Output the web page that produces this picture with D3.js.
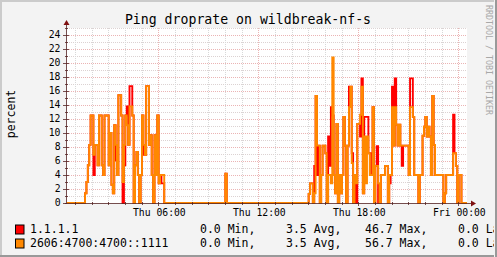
<!DOCTYPE html>
<html><head><meta charset="utf-8">
<script src="https://cdn.jsdelivr.net/npm/d3@7"></script>
<style>html,body{margin:0;padding:0;background:#f3f3f3;} svg{display:block;font-family:"DejaVu Sans Mono",monospace;}</style>
</head><body><svg id="c" width="497" height="257"></svg>
<script>
const title = "Ping droprate on wildbreak-nf-s";
const yLabel = "percent";
const yTickLabels = [0, 2, 4, 6, 8, 10, 12, 14, 16, 18, 20, 22, 24];
const seriesNames = ["1.1.1.1", "2606:4700:4700::1111"];
const seriesColors = ["#ff0000", "#ff8800"];
const legendMin = ["0.0", "0.0"];
const legendAvg = ["3.5", "3.5"];
const legendMax = ["46.7", "56.7"];
const legendLast = ["0.0", "0.0"];
const startTime = new Date(2024, 0, 4, 0, 27, 36);
const stepMinutes = 5;

// 288 five-minute samples (percent)
const redValues = [
0,0,0,0,0,0,0,0,0,0,0,0,
0,1.4,3.0,5.4,8.3,12.5,12.5,4.0,8.3,8.3,5.4,12.5,
12.5,5.4,4.0,12.5,12.5,12.5,5.4,10.0,2.6,1.4,11.1,6.1,
4.0,15.4,15.4,12.5,0,5.4,12.5,13.8,8.3,16.7,16.7,12.5,
0,5.4,7.3,4.0,0,4.0,12.5,6.9,6.9,16.7,16.7,8.3,
9.7,4.0,0,9.7,4.0,12.5,2.8,4.0,2.8,2.8,0,0,
0,0,0,0,0,0,0,0,0,0,0,0,
0,0,0,0,0,0,0,0,0,0,0,0,
0,0,0,0,0,0,0,0,0,0,0,0,
0,0,0,0,0,0,4.2,0,0,0,0,0,
0,0,0,0,0,0,0,0,0,0,0,0,
0,0,0,0,0,0,0,0,0,0,0,0,
0,0,0,0,0,0,0,0,0,0,0,0,
0,0,0,0,0,0,0,0,0,0,0,0,
0,0,0,0,0,0,1.3,2.8,2.8,0,5.3,15.3,
4.0,8.2,0,4.0,8.2,8.2,7.1,0,9.5,5.3,13.7,12.5,
4.0,1.4,11.3,0,4.0,1.4,4.0,12.3,8.2,0,8.2,16.6,
16.6,7.1,0,4.0,0,11.3,11.3,9.5,17.8,1.4,12.3,12.3,
12.3,7.1,7.1,4.0,13.7,0,5.3,8.1,0,0,4.0,4.0,
4.0,5.3,5.3,0,2.8,4.0,16.6,8.2,17.8,11.2,8.2,11.2,
8.2,5.3,8.2,8.2,8.2,8.2,4.0,17.8,17.8,12.3,4.0,4.0,
4.0,0,4.0,4.0,9.6,10.9,12.3,9.5,10.9,9.5,4.0,15.3,
8.3,4.0,4.0,4.0,4.0,4.0,4.0,0,1.4,4.0,4.0,4.0,
4.0,4.0,12.6,7.1,5.3,0,4.0,4.0,0,0,0,0
];
const orangeValues = [
0,0,0,0,0,0,0,0,0,0,0,0,
0,1.4,3.0,5.4,8.3,12.5,12.5,6.9,8.3,8.3,5.4,12.5,
12.5,5.4,4.0,12.5,12.5,12.5,5.4,10.0,2.6,1.4,11.1,8.3,
4.0,15.4,15.4,12.5,3.0,8.3,12.5,11.1,8.3,13.8,13.8,12.5,
0,5.4,7.3,4.0,0,4.0,12.5,8.3,6.9,16.7,16.7,8.3,
9.7,4.0,0,9.7,4.0,12.5,2.8,4.0,4.0,4.0,0,0,
0,0,0,0,0,0,0,0,0,0,0,0,
0,0,0,0,0,0,0,0,0,0,0,0,
0,0,0,0,0,0,0,0,0,0,0,0,
0,0,0,0,0,0,4.2,0,0,0,0,0,
0,0,0,0,0,0,0,0,0,0,0,0,
0,0,0,0,0,0,0,0,0,0,0,0,
0,0,0,0,0,0,0,0,0,0,0,0,
0,0,0,0,0,0,0,0,0,0,0,0,
0,0,0,0,0,0,1.3,2.8,2.8,0,1.4,15.3,
8.2,8.2,0,4.0,8.2,8.2,7.1,0,4.0,4.0,2.8,20.8,
4.0,1.4,11.3,0,4.0,1.4,4.0,12.3,8.2,0,8.2,13.7,
16.6,5.7,0,4.0,2.8,11.3,11.3,12.6,16.6,1.4,9.5,2.8,
9.5,7.1,4.0,4.0,13.7,0,5.3,5.3,2.8,0,4.0,4.0,
4.0,5.3,5.3,0,4.0,4.0,13.7,8.2,13.7,11.2,8.2,11.2,
8.2,8.2,8.2,8.2,8.2,8.2,4.0,13.7,13.7,12.3,4.0,4.0,
4.0,0,4.0,4.0,9.6,10.9,12.3,9.5,10.9,9.5,4.0,15.3,
8.3,4.0,4.0,4.0,4.0,4.0,4.0,0,1.4,4.0,4.0,4.0,
4.0,4.0,7.1,7.1,5.3,0,4.0,4.0,0,0,0,0
];
const seriesValues = [redValues, orangeValues];

const W = 497, H = 257;
const L = 67, R = 467, T = 28, B = 203;
const svg = d3.select("#c");
svg.append("rect").attr("width", W).attr("height", H).attr("fill", "#f3f3f3");

const endTime = new Date(+startTime + 24 * 3600e3);
const x = d3.scaleTime().domain([startTime, endTime]).range([L, R]);
const y = d3.scaleLinear().domain([0, 25]).range([B, T]);

svg.append("rect").attr("x", L).attr("y", T).attr("width", R - L).attr("height", B - T).attr("fill", "#ffffff");

const g = svg.append("g");
// horizontal grid
const yAll = d3.range(1, 26);
g.selectAll("line.hg").data(yAll).join("line")
  .attr("x1", L).attr("x2", R)
  .attr("y1", d => Math.round(y(d)) + 0.5).attr("y2", d => Math.round(y(d)) + 0.5)
  .attr("stroke", d => d % 2 === 0 ? "#ebb4b4" : "#dcd2d2")
  .attr("stroke-dasharray", "1,1");
// vertical grid
const hours = d3.timeHour.range(d3.timeHour.ceil(startTime), endTime);
g.selectAll("line.vg").data(hours).join("line")
  .attr("x1", d => Math.round(x(d)) - 0.5).attr("x2", d => Math.round(x(d)) - 0.5)
  .attr("y1", T).attr("y2", B)
  .attr("stroke", d => d.getHours() % 6 === 0 ? "#ebb4b4" : "#d8d8d8")
  .attr("stroke-dasharray", "1,1");

// series
const clip = svg.append("clipPath").attr("id", "pc").append("rect")
  .attr("x", L).attr("y", T - 2).attr("width", R - L).attr("height", B - T + 4);
const line = d3.line().x(d => x(d[0])).y(d => y(d[1])).curve(d3.curveStepAfter);
seriesValues.forEach((vals, k) => {
  const pts = vals.map((v, i) => [new Date(+startTime + i * stepMinutes * 60e3), v]);
  pts.push([endTime, vals[vals.length - 1]]);
  svg.append("path").attr("d", line(pts)).attr("fill", "none")
    .attr("stroke", seriesColors[k]).attr("stroke-width", 1.9)
    .attr("clip-path", "url(#pc)");
});

// axes
const axisColor = "rgba(85,35,35,0.8)";
svg.append("line").attr("x1", L - 0.5).attr("x2", L - 0.5).attr("y1", B + 0.5).attr("y2", T - 4).attr("stroke", axisColor);
svg.append("line").attr("x1", L - 2).attr("x2", R + 4).attr("y1", B + 0.5).attr("y2", B + 0.5).attr("stroke", axisColor);
svg.append("path").attr("d", `M${L - 3.5},${T - 3}L${L - 0.5},${T - 8}L${L + 2.5},${T - 3}Z`).attr("fill", "#7f1010");
svg.append("path").attr("d", `M${R + 4},${B - 2.5}L${R + 9},${B + 0.5}L${R + 4},${B + 3.5}Z`).attr("fill", "#7f1010");
// y ticks
g.selectAll("line.yt").data(yAll.concat([0])).join("line")
  .attr("x1", d => d % 2 === 0 ? L - 4 : L - 2).attr("x2", d => d % 2 === 0 ? L + 2 : L + 1)
  .attr("y1", d => Math.round(y(d)) + 0.5).attr("y2", d => Math.round(y(d)) + 0.5)
  .attr("stroke", axisColor);
// x ticks
svg.selectAll("line.xt").data(hours).join("line")
  .attr("x1", d => Math.round(x(d)) - 0.5).attr("x2", d => Math.round(x(d)) - 0.5)
  .attr("y1", d => B - 1).attr("y2", d => d.getHours() % 6 === 0 ? B + 3 : B + 2)
  .attr("stroke", axisColor);

// y labels
svg.selectAll("text.yl").data(yTickLabels).join("text")
  .attr("x", 60.5).attr("y", d => y(d)).attr("dy", "0.35em")
  .attr("text-anchor", "end").attr("font-size", 9.75).attr("fill", "#000")
  .text(d => d);
// x labels
const majorTicks = x.ticks(d3.timeHour.every(6));
const fmt = d3.timeFormat("%a %H:%M");
svg.selectAll("text.xl").data(majorTicks).join("text")
  .attr("x", d => x(d)).attr("y", 216)
  .attr("text-anchor", "middle").attr("font-size", 9.75).attr("fill", "#000")
  .text(d => fmt(d));

// title
svg.append("text").attr("x", 248).attr("y", 23.5).attr("text-anchor", "middle")
  .attr("font-size", 13.2).attr("fill", "#000").text(title);
// y axis label
svg.append("text").attr("transform", "translate(15,114) rotate(-90)").attr("text-anchor", "middle")
  .attr("font-size", 11.5).attr("fill", "#000").text(yLabel);

// legend
const rowY = [232.7, 246.7];
seriesNames.forEach((name, k) => {
  svg.append("rect").attr("x", 15.5).attr("y", rowY[k] - 7.7).attr("width", 8.5).attr("height", 9)
    .attr("fill", seriesColors[k]).attr("stroke", "#000").attr("stroke-width", 1);
  const t = (xx, s) => svg.append("text").attr("x", xx).attr("y", rowY[k]).attr("font-size", 11.5)
    .attr("fill", "#000").attr("xml:space", "preserve").text(s);
  t(30, name);
  t(200, legendMin[k] + " Min,");
  t(286, legendAvg[k] + " Avg,");
  t(365, legendMax[k] + " Max,");
  t(458, legendLast[k] + " Last");
});

// watermark
svg.append("text").attr("transform", "translate(485.5,5) rotate(90)")
  .attr("font-size", 8.3).attr("fill", "#a8a8a8").text("RRDTOOL / TOBI OETIKER");

// frame
svg.append("line").attr("x1", 0).attr("x2", W).attr("y1", 1).attr("y2", 1).attr("stroke", "#cbcbcb").attr("stroke-width", 2);
svg.append("line").attr("x1", 1).attr("x2", 1).attr("y1", 0).attr("y2", H).attr("stroke", "#cbcbcb").attr("stroke-width", 2);
svg.append("line").attr("x1", 0).attr("x2", W).attr("y1", H - 1).attr("y2", H - 1).attr("stroke", "#999999").attr("stroke-width", 2);
svg.append("rect").attr("x", 494).attr("y", 0).attr("width", 3).attr("height", H).attr("fill", "#f3f3f3");
svg.append("line").attr("x1", W - 1).attr("x2", W - 1).attr("y1", 0).attr("y2", H).attr("stroke", "#999999").attr("stroke-width", 2);
</script></body></html>
